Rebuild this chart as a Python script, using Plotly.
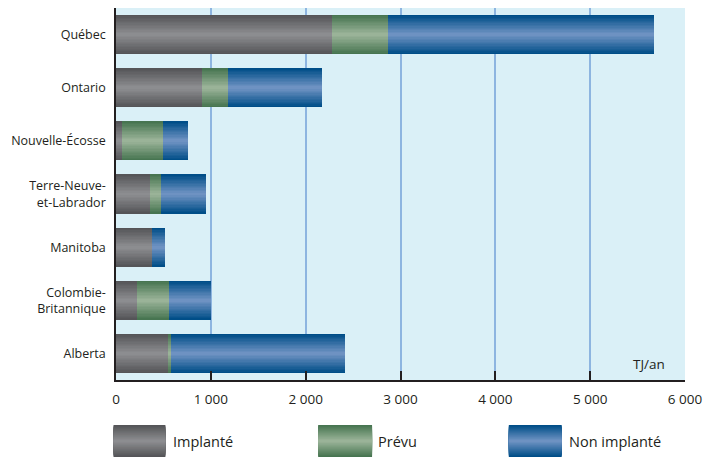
import plotly.graph_objects as go

provinces = ["Québec", "Ontario", "Nouvelle-Écosse", "Terre-Neuve-<br>et-Labrador",
             "Manitoba", "Colombie-<br>Britannique", "Alberta"]
implante = [2280, 910, 58, 363, 384, 226, 553]
prevu = [590, 275, 442, 116, 0, 337, 31]
non_implante = [2800, 990, 263, 474, 137, 442, 1832]

series_names = ["Implanté", "Prévu", "Non implanté"]
tick_vals = [0, 1000, 2000, 3000, 4000, 5000, 6000]
tick_text = ["0", "1 000", "2 000", "3 000", "4 000", "5 000", "6 000"]

# (dark edge colour, light centre colour)
palettes = [((0x55, 0x55, 0x58), (0x8c, 0x8d, 0x90)),
            ((0x47, 0x75, 0x51), (0x9a, 0xb3, 0x98)),
            ((0x00, 0x4e, 0x88), (0x6e, 0x92, 0xc2))]

def mix(c1, c2, t):
    return "rgb(%d,%d,%d)" % tuple(round(a + (b - a) * t) for a, b in zip(c1, c2))

N = 14
BAR_W = 0.735
fig = go.Figure()

bases = [[0] * len(provinces),
         implante,
         [a + b for a, b in zip(implante, prevu)]]
values = [implante, prevu, non_implante]

for s in range(3):
    dark, light = palettes[s]
    for k in range(N):
        t = k / (N - 1)
        fig.add_trace(go.Bar(
            y=provinces, x=values[s], base=bases[s], orientation="h",
            width=BAR_W * (1 - k / N),
            marker=dict(color=mix(dark, light, t), line=dict(width=0)),
            name=series_names[s], showlegend=False, hoverinfo="skip"))

# plot area geometry (pixels) for legend placement
PX0, PW, PY_BOT, PH = 115.5, 570.0, 380.0, 372.0
def px(x):
    return (x - PX0) / PW
def py(y):
    return (PY_BOT - y) / PH

shapes = []
annotations = []
legend_items = [(113, 165, 171), (318, 372, 376), (509, 562, 567)]
for s, (x0, x1, tx) in enumerate(legend_items):
    dark, light = palettes[s]
    top, bot = 425.0, 457.0
    mid, half = (top + bot) / 2, (bot - top) / 2
    for k in range(N):
        t = k / (N - 1)
        h = half * (1 - k / N)
        shapes.append(dict(type="rect", xref="paper", yref="paper",
                           x0=px(x0), x1=px(x1), y0=py(mid + h), y1=py(mid - h),
                           fillcolor=mix(dark, light, t), line=dict(width=0), layer="above"))
    annotations.append(dict(text=series_names[s], xref="paper", yref="paper",
                            x=px(tx), y=py(441), xanchor="left", yanchor="middle",
                            showarrow=False, font=dict(size=14.5, color="#231f20")))

annotations.append(dict(text="TJ/an", x=5620, y=py(364), xref="x", yref="paper",
                        xanchor="center", yanchor="middle", showarrow=False,
                        font=dict(size=13.5, color="#231f20")))

fig.update_layout(
    width=718, height=457,
    margin=dict(l=115.5, r=32.5, t=8, b=77),
    barmode="overlay", bargap=0,
    plot_bgcolor="#daf0f7", paper_bgcolor="white",
    font=dict(family="Open Sans, Liberation Sans, sans-serif", color="#231f20"),
    shapes=shapes, annotations=annotations, showlegend=False,
)
fig.update_xaxes(range=[0, 6000], tickvals=tick_vals, ticktext=tick_text,
                 showgrid=True, gridcolor="#8db5e0", gridwidth=1.5,
                 showline=True, linecolor="#231f20", linewidth=1.5,
                 ticks="inside", ticklen=9, tickcolor="#231f20", tickwidth=1.5,
                 tickfont=dict(size=13.5), ticklabelstandoff=6, zeroline=False)
fig.update_yaxes(categoryorder="array", categoryarray=provinces, autorange="reversed",
                 showline=True, linecolor="#231f20", linewidth=1.5,
                 showgrid=False, ticks="", tickfont=dict(size=12.5),
                 ticklabelstandoff=6)

fig.write_html("out.html")
